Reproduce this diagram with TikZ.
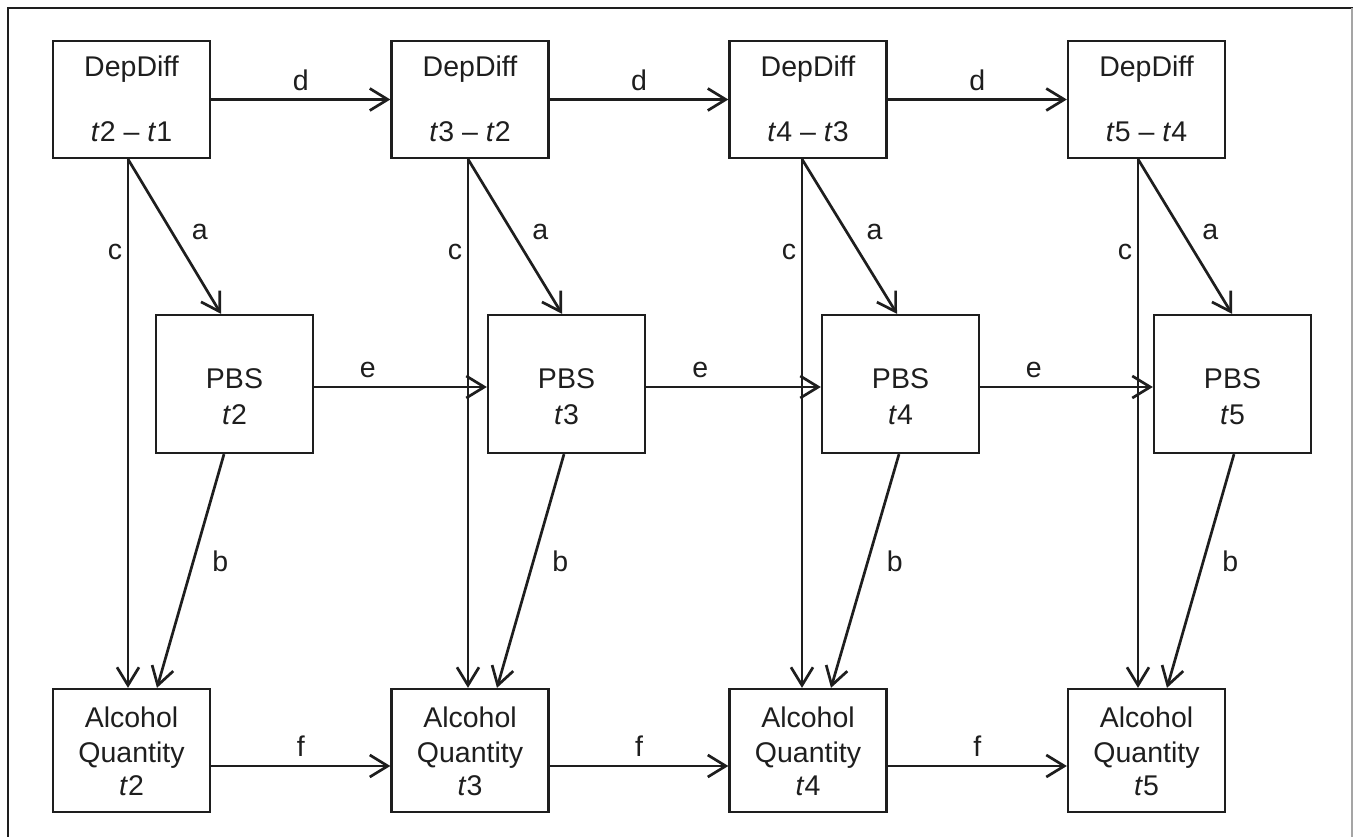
\documentclass[tikz,border=0pt]{standalone}
\usepackage{fontspec}
\setmainfont{Liberation Sans}
\usetikzlibrary{arrows.meta}
\definecolor{ink}{RGB}{30,30,30}
\definecolor{rim}{RGB}{165,165,165}
\begin{document}
\begin{tikzpicture}[x=1pt,y=-1pt,
  box/.style={draw=ink, line width=2.3pt, rectangle, inner sep=0pt, minimum width=157pt},
  lbl/.style={text=ink, font=\fontsize{28.5}{34}\selectfont, inner sep=0pt},
  link/.style={draw=ink, line width=2.7pt, -{Straight Barb[length=18pt,width=22pt]}}]
\useasboundingbox (0,0) rectangle (1353,837);

% frame
\draw[ink, line width=2.6pt] (8,837) -- (8,8) -- (1353,8);
\draw[rim, line width=1.2pt] (1352,8) -- (1352,837);

% one column per wave
\foreach \i/\dx/\px/\cx/\ax/\bx/\bt/\n/\p in {
  1/131.5/234.5/128/221/224/157/2/1,
  2/470/566.5/468/562/564/497/3/2,
  3/808/900.5/802/897/899/831/4/3,
  4/1146.5/1232.5/1138/1232/1234/1167/5/4}{
  % boxes
  \node[box, minimum height=117pt] (dep\i) at (\dx,99.5) {};
  \node[lbl, anchor=base] (depname\i) at (\dx,77) {DepDiff};
  \node[lbl, anchor=base] (depspan\i) at (\dx,142) {\textit{t}\n{} – \textit{t}\p};
  \node[box, minimum height=138pt] (pbs\i) at (\px,384) {};
  \node[lbl, anchor=base] (pbsname\i) at (\px,388) {PBS};
  \node[lbl, anchor=base] (pbstime\i) at (\px,424) {\textit{t}\n};
  \node[box, minimum height=123pt] (aq\i) at (\dx,750.5) {};
  \node[lbl, anchor=base] (aqname\i) at (\dx,727) {Alcohol};
  \node[lbl, anchor=base] (aqkind\i) at (\dx,762) {Quantity};
  \node[lbl, anchor=base] (aqtime\i) at (\dx,795) {\textit{t}\n};
  % attachment columns for the vertical and slanted paths
  \coordinate (cline\i) at (\cx,0);
  \coordinate (aend\i) at (\ax,0);
  \coordinate (bstart\i) at (\bx,0);
  \coordinate (bend\i) at (\bt,0);
  % paths within a wave
  \draw[link] (dep\i.south -| cline\i) -- node[lbl, pos=.175, xshift=-13pt] (clab\i) {c} (aq\i.north -| cline\i);
  \draw[link] (dep\i.south -| cline\i) -- node[lbl, pos=.47, xshift=28pt] (alab\i) {a} (pbs\i.north -| aend\i);
  \draw[link] (pbs\i.south -| bstart\i) -- node[lbl, pos=.46, xshift=27pt] (blab\i) {b} (aq\i.north -| bend\i);
}

% paths between consecutive waves
\foreach \i/\j in {1/2,2/3,3/4}{
  \draw[link] (dep\i.east) -- node[lbl, midway, yshift=19pt] (dlab\i) {d} (dep\j.west);
  \draw[link] ([yshift=-3pt]pbs\i.east) -- node[lbl, pos=.31, yshift=17pt] (elab\i) {e} ([yshift=-3pt]pbs\j.west);
  \draw[link] ([yshift=-15.5pt]aq\i.east) -- node[lbl, midway, yshift=20pt] (flab\i) {f} ([yshift=-15.5pt]aq\j.west);
}
\end{tikzpicture}
\end{document}
